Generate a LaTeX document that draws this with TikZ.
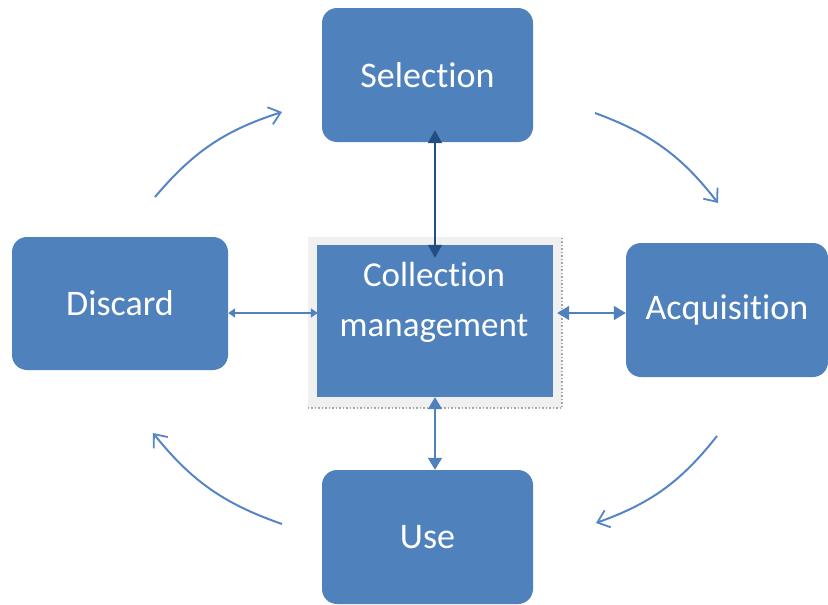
\documentclass[tikz,border=0pt]{standalone}
\usepackage{fontspec}
\setmainfont{Carlito}[Ligatures=NoCommon]
\usetikzlibrary{arrows.meta,calc}
\definecolor{boxblue}{HTML}{4F81BD}
\definecolor{darkblue}{HTML}{244D80}
\definecolor{curveblue}{HTML}{5585C6}
\definecolor{framegray}{HTML}{F0F0F0}
\tikzset{
  stagebox/.style={draw=none,fill=boxblue,rounded corners=15pt,inner sep=0pt,
    text=white,font=\fontsize{36}{40}\selectfont},
  conn/.style={draw=boxblue,line width=1.8pt,{Triangle[width=14pt,length=12pt]}-{Triangle[width=14pt,length=12pt]}},
  cycle arrow/.style={draw=curveblue,line width=2pt,-{Straight Barb[length=11pt,width=18pt,line width=1.8pt]}}
}
\begin{document}
\begin{tikzpicture}[x=1pt,y=-1pt]
\useasboundingbox (0,0) rectangle (828,605);
% outer stages
\node[stagebox,minimum width=211pt,minimum height=134pt] (sel) at (427.5,75) {Selection};
\node[stagebox,minimum width=216pt,minimum height=133pt] (dis) at (120,303.5) {Discard};
\node[stagebox,minimum width=202pt,minimum height=134pt] (acq) at (727,310) {Acquisition};
\node[stagebox,minimum width=211pt,minimum height=134pt] (use) at (427.5,537) {Use};
% central box
\node[fill=framegray,minimum width=254pt,minimum height=171pt,inner sep=0pt] (frame) at (435,322.5) {};
\draw[gray!70,line width=1.5pt,dotted] (frame.south west) -- (frame.south east) -- (frame.north east);
\node[fill=boxblue,minimum width=236pt,minimum height=152pt,inner sep=0pt] (cm) at (435,321) {};
\node[text=white,align=center,font=\fontsize{35}{50}\selectfont,inner sep=0pt] (cmtext) at (434,302) {Collection\\management};
% connectors to the centre
\coordinate (topa) at ([yshift=12pt]sel.south -| cm.north);
\draw[draw=darkblue,line width=1.8pt,{Triangle[width=14pt,length=13pt]}-{Triangle[width=14pt,length=13pt]},fill=darkblue]
  (topa) -- ([yshift=-13pt]cm.north);
\coordinate (lefta) at ([yshift=8pt]cm.west);
\draw[draw=boxblue,line width=1.8pt,{Triangle[width=9pt,length=7pt]}-{Triangle[width=9pt,length=7pt]},fill=boxblue]
  (dis.east |- lefta) -- ([xshift=1pt]lefta);
\coordinate (righta) at ([yshift=8pt,xshift=4pt]cm.east);
\draw[conn,fill=boxblue] (righta) -- (acq.west |- righta);
\draw[conn,fill=boxblue] (cm.south) -- (use.north -| cm.south);
% cycle arrows
\coordinate (c1s) at (155,197); \coordinate (c1e) at (282,112);
\coordinate (c2s) at (595,113); \coordinate (c2e) at (718,203);
\coordinate (c3s) at (717,436); \coordinate (c3e) at (596,523);
\coordinate (c4s) at (282,524); \coordinate (c4e) at (153,433);
\draw[cycle arrow] (c1s) to[bend left=16] (c1e);
\draw[cycle arrow] (c2s) to[bend left=16] (c2e);
\draw[cycle arrow] (c3s) to[bend left=16] (c3e);
\draw[cycle arrow] (c4s) to[bend left=16] (c4e);
\end{tikzpicture}
\end{document}
